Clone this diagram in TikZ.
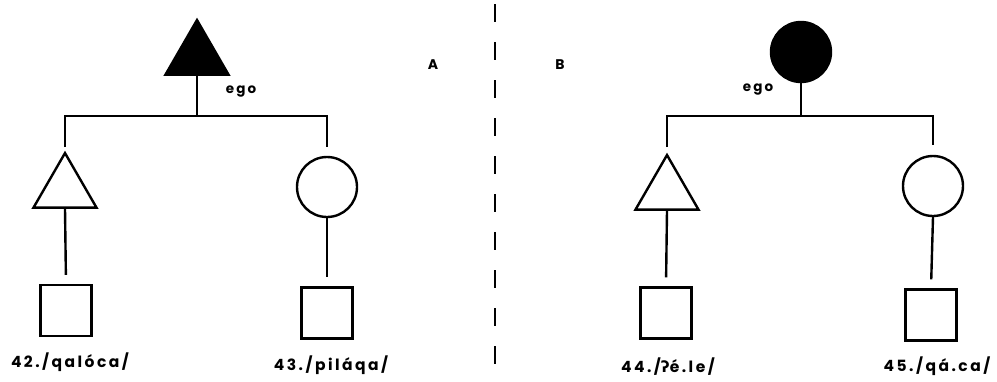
\documentclass[tikz,border=0pt]{standalone}
\usepackage{fontspec}
\setmainfont{Poppins}[LetterSpace=16]
\newfontfamily\ipafont{DejaVu Sans}[LetterSpace=16]
\usetikzlibrary{shapes.geometric}
\tikzset{
  ln/.style={line width=2.4pt, line cap=butt},
  tri/.style={regular polygon, regular polygon sides=3, minimum size=72.7pt, inner sep=0pt, draw, line width=2.4pt},
  circ/.style={circle, minimum size=60pt, inner sep=0pt, draw, line width=2.4pt},
  sq/.style={rectangle, minimum size=51pt, inner sep=0pt, draw, line width=2.4pt},
  lab/.style={font=\fontsize{15.5}{18}\selectfont\bfseries, inner sep=0pt},
  letter/.style={font=\fontsize{14}{16}\selectfont\bfseries, inner sep=0pt},
  small/.style={font=\fontsize{13.5}{15}\selectfont\bfseries, inner sep=0pt},
}
\begin{document}
\begin{tikzpicture}[x=1pt,y=-1pt]
\useasboundingbox (0,0) rectangle (997,381);
% ---------- A ----------
\node[tri, fill=black] (egoA) at (197,56.4) {};
\coordinate (jA) at (197,116);
\coordinate (lA) at (65,147);
\coordinate (rA) at (327,147);
\node[tri] (broA) at (65,189.4) {};
\node[circ] (sisA) at (327,187) {};
\node[sq] (sqA1) at (66,310.5) {};
\node[sq] (sqA2) at (327,313) {};
\draw[ln] (egoA.south) -- (jA);
\draw[ln] (lA) |- (jA) -| (rA);
\draw[ln, shorten >=9pt] (broA.south) -- (sqA1.north);
\draw[ln, shorten >=9pt] (sisA.south) -- (sqA2.north);
\node[small] (egoAl) at (241,92) {ego};
\node[letter] (labA) at (433,65) {A};
\node[lab] (t42) at (70,362) {42./qalóca/};
\node[lab] (t43) at (331,365) {43./piláqa/};
% ---------- divider ----------
\coordinate (dtop) at (495,4);
\coordinate (dbot) at (495,366);
\draw[line width=2.4pt, dash pattern=on 18pt off 20pt] (dtop) -- (dbot);
% ---------- B ----------
\node[letter] (labB) at (560,65) {B};
\node[circ, fill=black] (egoB) at (801,52) {};
\coordinate (jB) at (801,116);
\coordinate (lB) at (667,147);
\coordinate (rB) at (933,145);
\node[tri] (broB) at (667,191.4) {};
\node[circ] (sisB) at (933,186) {};
\node[sq] (sqB1) at (666,313) {};
\node[sq] (sqB2) at (931,315) {};
\draw[ln] (egoB.south) -- (jB);
\draw[ln] (lB) |- (jB) -| (rB);
\draw[ln, shorten >=9pt] (broB.south) -- (sqB1.north);
\draw[ln, shorten >=9pt] (sisB.south) -- (sqB2.north);
\node[small] (egoBl) at (758,90) {ego};
\node[lab] (t44) at (668,367) {44./{\ipafont ʔ}é.le/};
\node[lab] (t45) at (937,366) {45./qá.ca/};
\end{tikzpicture}
\end{document}
